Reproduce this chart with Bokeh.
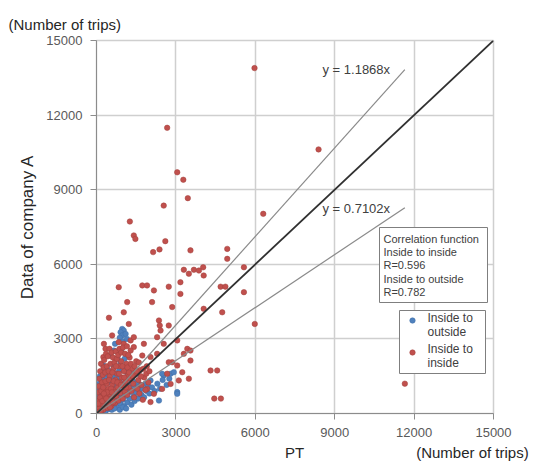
from bokeh.plotting import figure
from bokeh.models import Range1d, FixedTicker, Label, LinearAxis, Title
from bokeh.embed import file_html
from bokeh.resources import INLINE

# ---------------- data ----------------
ticks = [0, 3000, 6000, 9000, 12000, 15000]
fit_slopes = [1.1868, 0.7102]
fit_labels = ["y = 1.1868x", "y = 0.7102x"]
fit_x_max = 11650
diag = [0, 15000]

blue_x = [970, 1030, 910, 970, 660, 530, 1470, 2800, 2540, 2360, 3050, 260, 910, 1290, 1540, 2040, 2480, 2920, 1660, 3050,
          880, 1100, 1000, 1150,
          30, 60, 90, 120, 150, 180, 210, 240, 270, 300, 330, 360, 390, 420, 450, 480, 510, 540, 570, 600,
          630, 660, 690, 720, 750, 780, 810, 840, 870, 900, 930, 960, 990, 1020, 1050, 1080, 1110, 1140, 1170, 1200,
          1230, 1260, 1290, 1320, 1350, 1380, 1410, 1440, 1470, 1500, 1540, 1580, 1620, 1660, 1700, 1750, 1800, 1850, 1900, 1950,
          2000, 2100, 2200, 2300, 2400, 2500, 2650, 2750,
          50, 80, 100, 130, 160, 190, 230, 260, 290, 320, 350, 400, 440, 470, 520, 560, 610, 650, 700, 760,
          800, 850, 950, 1000, 1060, 1150, 700, 820, 40, 110, 170, 250, 350, 460, 580, 680, 760, 880, 1000, 1120]
blue_y = [3400, 3340, 3270, 3140, 2530, 2330, 1730, 1600, 1530, 520, 860, 1930, 2010, 1610, 1600, 1330, 1600, 1660, 660, 790,
          3050, 3200, 2900, 3000,
          80, 200, 40, 350, 150, 500, 280, 650, 120, 420, 800, 250, 580, 950, 350, 720, 180, 880, 480, 1050,
          300, 650, 1200, 450, 850, 250, 1000, 600, 1300, 400, 750, 1150, 550, 900, 300, 1250, 700, 1050, 450, 1400,
          850, 600, 1150, 350, 950, 1300, 700, 500, 1050, 850, 1250, 600, 950, 1150, 750, 1000, 650, 1200, 900, 1100,
          800, 1050, 900, 1200, 1000, 1350, 1150, 1400,
          600, 900, 1200, 1500, 800, 1100, 1350, 1700, 950, 1200, 1500, 1800, 1250, 1550, 1350, 1700, 1400, 1900, 1600, 1450,
          2200, 1700, 2600, 1800, 2200, 1650, 2800, 2450, 300, 650, 30, 400, 100, 200, 150, 200, 550, 150, 250, 200]

red_x = [5970, 2670, 8390, 3050, 3280, 3450, 2540, 6300, 1260, 1410, 1470, 2600, 2380, 2140, 3550, 4940, 4940, 5570, 3300, 3680, 4030,
         3490, 3870, 4050, 3170, 4690, 4870, 5570, 5980, 840, 1730, 1910, 2170, 2730, 3170, 1160, 2100, 2860, 4050, 4750, 470, 1030,
         2360, 1220, 2390, 2420, 2730,
         340, 840, 1290, 1410, 3050, 3430, 3550, 2540, 2040, 4310, 4560, 2860, 3110, 3490, 2670, 11650, 4450, 4700,
         280, 590, 1030, 1410, 1790, 2290, 1290, 1730, 2290, 3300, 3550, 2730, 3050, 3240, 2800, 2480, 2170, 1910, 2040, 260,
         50, 80, 120, 150, 200, 230, 260, 300, 320, 350, 380, 400, 420, 450, 480, 500, 520, 560, 590, 610,
         640, 660, 700, 720, 750, 780, 800, 830, 860, 880, 900, 930, 960, 990, 1010, 1040, 1070, 1100, 1130, 1160,
         1190, 1220, 1250, 1280, 1320, 1350, 1390, 1420, 1460, 1500, 1540, 1580, 1620, 1660, 1700, 1750, 1800, 1850, 1900, 1960,
         40, 60, 90, 110, 140, 170, 190, 210, 240, 270, 290, 330, 360, 390, 430, 460, 490, 530, 570, 620,
         680, 730, 770, 820, 870, 940, 1000, 1080, 1150, 1200,
         100, 130, 180, 250, 310, 340, 410, 470, 550, 600, 650, 690, 740, 790, 850, 920, 980, 1050, 1110, 1170,
         1230, 1300, 1370, 1440, 1520, 1600, 1680, 1770, 1880, 2000, 20, 70, 160, 220, 280, 370, 440, 510, 580, 630]
red_y = [13890, 11490, 10620, 9700, 9400, 8660, 8360, 8030, 7720, 7160, 7020, 6930, 6600, 6490, 6560, 6620, 6220, 5880, 5780, 5780, 5880,
         5620, 5750, 5550, 5280, 5100, 5100, 4880, 3600, 5080, 5150, 5150, 4950, 5100, 4810, 4480, 4480, 4280, 4210, 4070, 3850, 4070,
         3740, 3600, 3540, 3340, 3540,
         2600, 2870, 2940, 2670, 2940, 2600, 2530, 2800, 2270, 1730, 1730, 2060, 1330, 1400, 1600, 1200, 600, 600,
         2800, 3140, 2800, 3070, 2800, 3070, 2530, 2330, 2400, 2400, 2130, 2060, 1930, 1660, 1190, 990, 790, 990, 460, 2270,
         120, 300, 60, 450, 250, 700, 150, 520, 900, 380, 1200, 650, 220, 1000, 480, 1500, 780, 300, 1150, 620,
         1800, 950, 420, 1350, 700, 1600, 1050, 520, 1900, 1250, 820, 2100, 1450, 600, 1100, 1700, 880, 1300, 2000, 750,
         1550, 1050, 2250, 1400, 900, 1800, 1200, 650, 1600, 2100, 1000, 1350, 800, 1750, 1150, 550, 1450, 950, 1900, 1250,
         500, 850, 1100, 1400, 1700, 2000, 380, 1250, 1550, 1850, 2150, 1650, 2400, 1900, 2300, 1700, 2600, 2000, 2450, 2250,
         2050, 2500, 2200, 2350, 2600, 2450, 2650, 2400, 2700, 2350,
         200, 650, 900, 1050, 350, 1300, 850, 1350, 1000, 1650, 1300, 850, 1900, 1250, 1600, 1150, 1900, 1450, 1050, 1850,
         1650, 2000, 1500, 1900, 1700, 2050, 1500, 1800, 1600, 1700, 50, 400, 100, 500, 800, 600, 400, 250, 850, 450]

corr_lines = ["Correlation function", "Inside to inside", "R=0.596", "Inside to outside", "R=0.782"]
legend_lines = [("Inside to", "outside"), ("Inside to", "inside")]
axis_unit = "(Number  of trips)"
x_title = "PT"
y_title = "Data of company A"

# ---------------- layout helpers (picture pixels -> data) ----------------
W, H = 534, 464
PX0, PX1, PY0, PY1 = 96, 493, 413, 40
SX = 15000 / (PX1 - PX0)
SY = 15000 / (PY0 - PY1)


def dx(px):
    return (px - PX0) * SX


def dy(py):
    return (PY0 - py) * SY


FONT = "Liberation Sans"
BLUE = "#4F81BD"
RED = "#C0504D"
GRID = "#cfcfcf"

p = figure(width=W, height=H, output_backend="svg", toolbar_location=None,
           x_range=Range1d(0, 15000), y_range=Range1d(0, 15000),
           min_border_left=PX0, min_border_right=W - PX1,
           min_border_top=PY1, min_border_bottom=H - PY0)
p.outline_line_color = GRID
p.outline_line_width = 1.5
p.background_fill_color = "white"

for ax in (p.xaxis[0], p.yaxis[0]):
    ax.ticker = FixedTicker(ticks=ticks)
    ax.axis_line_color = "#8c8c8c"
    ax.major_tick_line_color = "#8c8c8c"
    ax.major_tick_out = 6
    ax.major_tick_in = 0
    ax.minor_tick_line_color = None
    ax.major_label_standoff = 8
    ax.major_label_text_font = FONT
    ax.major_label_text_font_size = "13px"
    ax.major_label_text_color = "#595959"

p.yaxis[0].axis_label = y_title
p.yaxis[0].axis_label_text_font = FONT
p.yaxis[0].axis_label_text_font_size = "17px"
p.yaxis[0].axis_label_text_font_style = "normal"
p.yaxis[0].axis_label_text_color = "#262626"
p.yaxis[0].axis_label_standoff = 6

# second bottom axis carrying "PT" and the unit as labels on one row
x_title_pos = dx(294)
unit_pos = dx(474)
ax2 = LinearAxis(ticker=FixedTicker(ticks=[x_title_pos, unit_pos]),
                 major_label_overrides={x_title_pos: x_title, unit_pos: axis_unit})
ax2.axis_line_color = None
ax2.major_tick_line_color = None
ax2.minor_tick_line_color = None
ax2.major_tick_out = 0
ax2.major_tick_in = 0
ax2.major_label_standoff = 4
ax2.major_label_text_font = FONT
ax2.major_label_text_font_size = "15px"
ax2.major_label_text_color = "#262626"
p.add_layout(ax2, "below")

# unit label above, as a title
p.add_layout(Title(text=axis_unit, align="left", offset=8 - PX0, text_font=FONT, text_font_size="15px",
                   text_font_style="normal", text_color="#262626", standoff=15), "above")

p.xgrid.grid_line_color = GRID
p.ygrid.grid_line_color = GRID
p.xgrid.grid_line_width = 1.5
p.ygrid.grid_line_width = 1.5
p.xgrid.ticker = FixedTicker(ticks=ticks)
p.ygrid.ticker = FixedTicker(ticks=ticks)

# scatter
p.scatter(blue_x, blue_y, size=5.5, fill_color=BLUE, line_color="#3f6fa8", line_width=0.5)
p.scatter(red_x, red_y, size=5.5, fill_color=RED, line_color="#a0403d", line_width=0.5)

# trend lines
for s in fit_slopes:
    p.line([0, fit_x_max], [0, fit_x_max * s], line_color="#8a8a8a", line_width=1.2)
p.line(diag, diag, line_color="#303030", line_width=1.8)

# line labels
for txt, py in zip(fit_labels, [69, 208]):
    p.add_layout(Label(x=dx(322), y=dy(py), text=txt, text_font=FONT, text_font_size="13px",
                       text_color="#404040", text_baseline="middle", text_align="left"))

# correlation text box
p.quad(left=[dx(379)], right=[dx(487)], top=[dy(227)], bottom=[dy(302)],
       fill_color="white", line_color="#7f7f7f", line_width=1)
for i, t in enumerate(corr_lines):
    p.add_layout(Label(x=dx(383), y=dy(238.5 + i * 13.2), text=t, text_font=FONT, text_font_size="11px",
                       text_color="#404040", text_baseline="middle", text_align="left"))

# legend box
p.quad(left=[dx(399)], right=[dx(485)], top=[dy(310)], bottom=[dy(373)],
       fill_color="white", line_color="#7f7f7f", line_width=1)
p.scatter([dx(412), dx(412)], [dy(320), dy(352)], size=5.5, fill_color=[BLUE, RED],
          line_color=["#3f6fa8", "#a0403d"], line_width=0.5)
for (l1, l2), py in zip(legend_lines, [317, 348]):
    p.add_layout(Label(x=dx(427), y=dy(py), text=l1, text_font=FONT, text_font_size="12px",
                       text_color="#404040", text_baseline="middle", text_align="left"))
    p.add_layout(Label(x=dx(427), y=dy(py + 14.5), text=l2, text_font=FONT, text_font_size="12px",
                       text_color="#404040", text_baseline="middle", text_align="left"))

open("out.html", "w").write(file_html(p, INLINE))
